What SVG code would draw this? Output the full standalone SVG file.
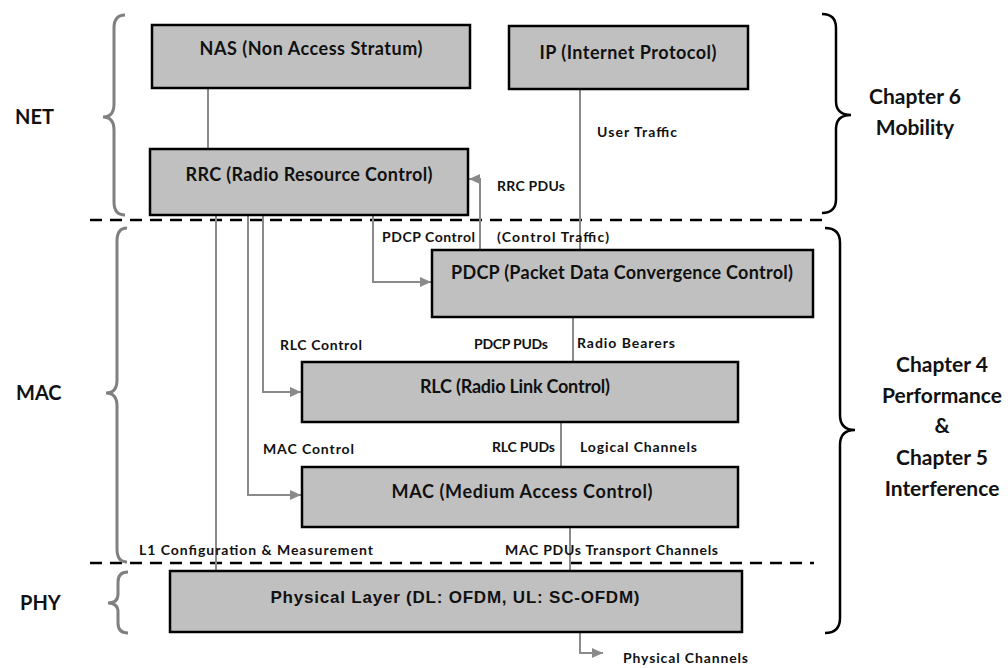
<svg xmlns="http://www.w3.org/2000/svg" width="1008" height="668" viewBox="0 0 1008 668">
<style>
.box{fill:#c0c0c0;stroke:#000;stroke-width:2.5}
.bt{font-family:Lato,"Open Sans","Liberation Sans",sans-serif;font-weight:bold;font-size:18px;fill:#111;text-anchor:middle}
.bta{font-family:"Liberation Sans",Arial,sans-serif;font-weight:bold;font-size:17px;fill:#111;text-anchor:middle}
.lb{font-family:Lato,"Open Sans","Liberation Sans",sans-serif;font-weight:bold;font-size:14px;fill:#111}
.side{font-family:Lato,"Open Sans","Liberation Sans",sans-serif;font-weight:bold;font-size:20px;fill:#111}
.ch{font-family:Lato,"Open Sans","Liberation Sans",sans-serif;font-weight:bold;font-size:21px;fill:#111;text-anchor:middle}
.con{fill:none;stroke:#8a8a8a;stroke-width:2}
.arr{fill:none;stroke:#8a8a8a;stroke-width:2;marker-end:url(#ah)}
.dash{stroke:#000;stroke-width:2.5;stroke-dasharray:12 8;fill:none}
.lbr{fill:none;stroke:#808080;stroke-width:3}
.rbr{fill:none;stroke:#000;stroke-width:2.5}
</style>
<defs>
<marker id="ah" markerUnits="userSpaceOnUse" markerWidth="12" markerHeight="10" refX="11" refY="5" orient="auto">
<path d="M0,0 L11,5 L0,10 Z" fill="#8a8a8a"/>
</marker>
</defs>
<rect width="1008" height="668" fill="#fff"/>

<g id="separators">
<line class="dash" x1="90" y1="220" x2="822" y2="220"/>
<line class="dash" x1="90" y1="563" x2="814" y2="563"/>
</g>

<g id="braces">
<path class="lbr" d="M125,15 Q114,15 114,28 L114,104 Q114,117 103,117 Q114,117 114,130 L114,202 Q114,215 125,215"/>
<path class="lbr" d="M127,228 Q117,228 117,241 L117,380 Q117,393 106,393 Q117,393 117,406 L117,549 Q117,562 127,562"/>
<path class="lbr" d="M128,572 Q118,572 118,582 L118,594 Q118,603 108,603 Q118,603 118,612 L118,623 Q118,633 128,633"/>
<path class="rbr" d="M822,14 Q836,14 836,28 L836,101 Q836,115 851,115 Q836,115 836,129 L836,199 Q836,213 822,213"/>
<path class="rbr" d="M825,228 Q840,228 840,243 L840,415 Q840,430 855,430 Q840,430 840,445 L840,618 Q840,633 825,633"/>
</g>

<g id="connectors">
<line class="con" x1="208" y1="88" x2="208" y2="149"/>
<line class="con" x1="580" y1="89" x2="580" y2="250"/>
<polyline class="arr" points="480,250 480,179 469,179"/>
<polyline class="arr" points="373,215 373,282 431,282"/>
<polyline class="arr" points="263,215 263,392 301,392"/>
<polyline class="arr" points="248,215 248,495 301,495"/>
<line class="con" x1="216" y1="215" x2="216" y2="571"/>
<line class="con" x1="573" y1="317" x2="573" y2="362"/>
<line class="con" x1="561" y1="422" x2="561" y2="467"/>
<line class="con" x1="570" y1="527" x2="570" y2="571"/>
<polyline class="arr" points="580,632 580,653 603,653"/>
</g>

<g id="nas"><rect class="box" x="152" y="25" width="318" height="63"/><text class="bt" x="311" y="55" textLength="223">NAS (Non Access Stratum)</text></g>
<g id="ip"><rect class="box" x="509" y="26" width="239" height="63"/><text class="bt" x="628" y="59" textLength="177">IP (Internet Protocol)</text></g>
<g id="rrc"><rect class="box" x="150" y="149" width="318" height="66"/><text class="bt" x="309" y="181" textLength="247">RRC (Radio Resource Control)</text></g>
<g id="pdcp"><rect class="box" x="432" y="250" width="381" height="67"/><text class="bt" x="622" y="279" textLength="342">PDCP (Packet Data Convergence Control)</text></g>
<g id="rlc"><rect class="box" x="302" y="362" width="436" height="60"/><text class="bt" x="515" y="393" textLength="190">RLC (Radio Link Control)</text></g>
<g id="mac"><rect class="box" x="302" y="467" width="436" height="60"/><text class="bt" x="522" y="498" textLength="261">MAC (Medium Access Control)</text></g>
<g id="phy"><rect class="box" x="170" y="571" width="572" height="61"/><text class="bta" x="455" y="603" textLength="369">Physical Layer (DL: OFDM, UL: SC-OFDM)</text></g>

<g id="labels">
<text class="lb" x="597" y="137" textLength="80">User Traffic</text>
<text class="lb" x="497" y="191" textLength="68">RRC PDUs</text>
<text class="lb" x="382" y="242" textLength="93">PDCP Control</text>
<text class="lb" x="497" y="242" textLength="112">(Control Traffic)</text>
<text class="lb" x="280" y="350" textLength="82">RLC Control</text>
<text class="lb" x="474" y="349" textLength="74">PDCP PUDs</text>
<text class="lb" x="577" y="348" textLength="98">Radio Bearers</text>
<text class="lb" x="263" y="454" textLength="91">MAC Control</text>
<text class="lb" x="492" y="452" textLength="63">RLC PUDs</text>
<text class="lb" x="580" y="452" textLength="117">Logical Channels</text>
<text class="lb" x="139" y="555" textLength="234">L1 Configuration &amp; Measurement</text>
<text class="lb" x="505" y="555" textLength="213">MAC PDUs Transport Channels</text>
<text class="lb" x="623" y="663" textLength="125">Physical Channels</text>
</g>

<g id="side-labels">
<text class="side" x="15" y="124">NET</text>
<text class="side" x="16" y="400">MAC</text>
<text class="side" x="20" y="610">PHY</text>
</g>

<g id="chapters">
<text class="ch" x="915" y="104">Chapter 6</text>
<text class="ch" x="915" y="135">Mobility</text>
<text class="ch" x="942" y="372">Chapter 4</text>
<text class="ch" x="942" y="403">Performance</text>
<text class="ch" x="942" y="433">&amp;</text>
<text class="ch" x="942" y="465">Chapter 5</text>
<text class="ch" x="942" y="496">Interference</text>
</g>
</svg>
